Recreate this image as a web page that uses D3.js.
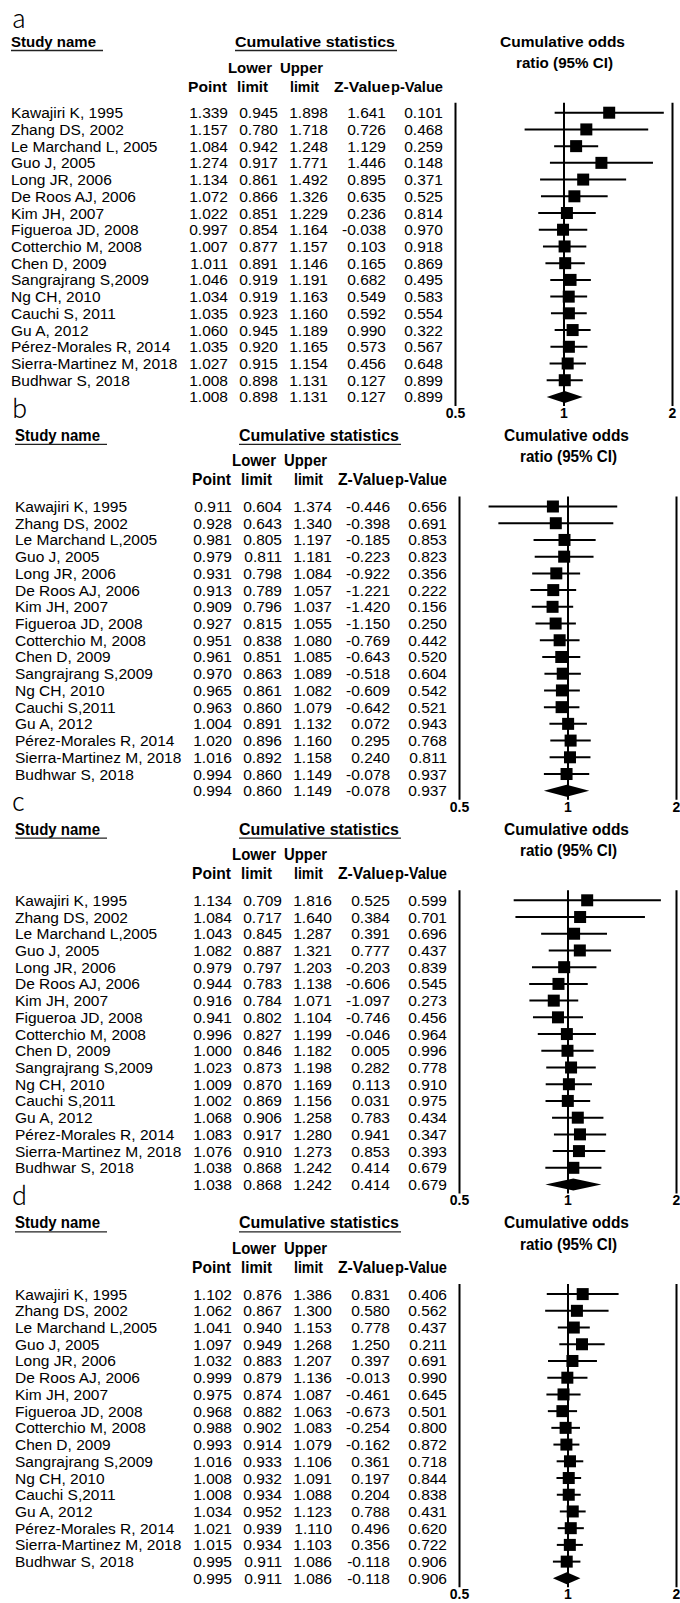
<!DOCTYPE html>
<html>
<head>
<meta charset="utf-8">
<script src="https://cdn.jsdelivr.net/npm/d3@7"></script>
<style>
  body { margin: 0; background: #fff; }
</style>
</head>
<body>
<script>
// study names, a uses "L, 2005" / "S, 2011", the other three panels drop the space
const namesA = ['Kawajiri K, 1995', 'Zhang DS, 2002', 'Le Marchand L, 2005', 'Guo J, 2005', 'Long JR, 2006',
  'De Roos AJ, 2006', 'Kim JH, 2007', 'Figueroa JD, 2008', 'Cotterchio M, 2008', 'Chen D, 2009',
  'Sangrajrang S,2009', 'Ng CH, 2010', 'Cauchi S, 2011', 'Gu A, 2012', 'Pérez-Morales R, 2014',
  'Sierra-Martinez M, 2018', 'Budhwar S, 2018'];
const namesBCD = ['Kawajiri K, 1995', 'Zhang DS, 2002', 'Le Marchand L,2005', 'Guo J, 2005', 'Long JR, 2006',
  'De Roos AJ, 2006', 'Kim JH, 2007', 'Figueroa JD, 2008', 'Cotterchio M, 2008', 'Chen D, 2009',
  'Sangrajrang S,2009', 'Ng CH, 2010', 'Cauchi S,2011', 'Gu A, 2012', 'Pérez-Morales R, 2014',
  'Sierra-Martinez M, 2018', 'Budhwar S, 2018'];

// cumulative statistics, last entry of each array = pooled row (diamond)
const pointA = [1.339, 1.157, 1.084, 1.274, 1.134, 1.072, 1.022, 0.997, 1.007, 1.011, 1.046, 1.034, 1.035, 1.060, 1.035, 1.027, 1.008, 1.008];
const lowerA = [0.945, 0.780, 0.942, 0.917, 0.861, 0.866, 0.851, 0.854, 0.877, 0.891, 0.919, 0.919, 0.923, 0.945, 0.920, 0.915, 0.898, 0.898];
const upperA = [1.898, 1.718, 1.248, 1.771, 1.492, 1.326, 1.229, 1.164, 1.157, 1.146, 1.191, 1.163, 1.160, 1.189, 1.165, 1.154, 1.131, 1.131];
const zA     = [1.641, 0.726, 1.129, 1.446, 0.895, 0.635, 0.236, -0.038, 0.103, 0.165, 0.682, 0.549, 0.592, 0.990, 0.573, 0.456, 0.127, 0.127];
const pA     = [0.101, 0.468, 0.259, 0.148, 0.371, 0.525, 0.814, 0.970, 0.918, 0.869, 0.495, 0.583, 0.554, 0.322, 0.567, 0.648, 0.899, 0.899];

const pointB = [0.911, 0.928, 0.981, 0.979, 0.931, 0.913, 0.909, 0.927, 0.951, 0.961, 0.970, 0.965, 0.963, 1.004, 1.020, 1.016, 0.994, 0.994];
const lowerB = [0.604, 0.643, 0.805, 0.811, 0.798, 0.789, 0.796, 0.815, 0.838, 0.851, 0.863, 0.861, 0.860, 0.891, 0.896, 0.892, 0.860, 0.860];
const upperB = [1.374, 1.340, 1.197, 1.181, 1.084, 1.057, 1.037, 1.055, 1.080, 1.085, 1.089, 1.082, 1.079, 1.132, 1.160, 1.158, 1.149, 1.149];
const zB     = [-0.446, -0.398, -0.185, -0.223, -0.922, -1.221, -1.420, -1.150, -0.769, -0.643, -0.518, -0.609, -0.642, 0.072, 0.295, 0.240, -0.078, -0.078];
const pB     = [0.656, 0.691, 0.853, 0.823, 0.356, 0.222, 0.156, 0.250, 0.442, 0.520, 0.604, 0.542, 0.521, 0.943, 0.768, 0.811, 0.937, 0.937];

const pointC = [1.134, 1.084, 1.043, 1.082, 0.979, 0.944, 0.916, 0.941, 0.996, 1.000, 1.023, 1.009, 1.002, 1.068, 1.083, 1.076, 1.038, 1.038];
const lowerC = [0.709, 0.717, 0.845, 0.887, 0.797, 0.783, 0.784, 0.802, 0.827, 0.846, 0.873, 0.870, 0.869, 0.906, 0.917, 0.910, 0.868, 0.868];
const upperC = [1.816, 1.640, 1.287, 1.321, 1.203, 1.138, 1.071, 1.104, 1.199, 1.182, 1.198, 1.169, 1.156, 1.258, 1.280, 1.273, 1.242, 1.242];
const zC     = [0.525, 0.384, 0.391, 0.777, -0.203, -0.606, -1.097, -0.746, -0.046, 0.005, 0.282, 0.113, 0.031, 0.783, 0.941, 0.853, 0.414, 0.414];
const pC     = [0.599, 0.701, 0.696, 0.437, 0.839, 0.545, 0.273, 0.456, 0.964, 0.996, 0.778, 0.910, 0.975, 0.434, 0.347, 0.393, 0.679, 0.679];

const pointD = [1.102, 1.062, 1.041, 1.097, 1.032, 0.999, 0.975, 0.968, 0.988, 0.993, 1.016, 1.008, 1.008, 1.034, 1.021, 1.015, 0.995, 0.995];
const lowerD = [0.876, 0.867, 0.940, 0.949, 0.883, 0.879, 0.874, 0.882, 0.902, 0.914, 0.933, 0.932, 0.934, 0.952, 0.939, 0.934, 0.911, 0.911];
const upperD = [1.386, 1.300, 1.153, 1.268, 1.207, 1.136, 1.087, 1.063, 1.083, 1.079, 1.106, 1.091, 1.088, 1.123, 1.110, 1.103, 1.086, 1.086];
const zD     = [0.831, 0.580, 0.778, 1.250, 0.397, -0.013, -0.461, -0.673, -0.254, -0.162, 0.361, 0.197, 0.204, 0.788, 0.496, 0.356, -0.118, -0.118];
const pD     = [0.406, 0.562, 0.437, 0.211, 0.691, 0.990, 0.645, 0.501, 0.800, 0.872, 0.718, 0.844, 0.838, 0.431, 0.620, 0.722, 0.906, 0.906];

const oddsTicks = [0.5, 1, 2];

// layout (pixels)
const W = 680, H = 1603;
const firstRow = 112.7, rowStep = 16.72, panelGap = 393.8;
const colRight = [228, 278, 328, 386, 443];   // right edges of the five number columns
const plotX = [455, 672];                     // x of 0.5 and 2

const svg = d3.select('body').append('svg')
  .attr('width', W)
  .attr('height', H)
  .style('font-family', '"Liberation Sans", Arial, sans-serif');

const panels = [
  { label: 'a', names: namesA,   cols: [pointA, lowerA, upperA, zA, pA], dx: 0, narrow: false },
  { label: 'b', names: namesBCD, cols: [pointB, lowerB, upperB, zB, pB], dx: 4, narrow: true },
  { label: 'c', names: namesBCD, cols: [pointC, lowerC, upperC, zC, pC], dx: 4, narrow: true },
  { label: 'd', names: namesBCD, cols: [pointD, lowerD, upperD, zD, pD], dx: 4, narrow: true },
];

panels.forEach((p, i) => drawPanel(p, firstRow + i * panelGap));

function drawPanel(p, K) {
  const g = svg.append('g').attr('transform', `translate(${p.dx},0)`);
  const n = p.names.length;  // pooled row sits at index n

  const y = d3.scaleLinear().domain([0, n]).range([K, K + n * rowStep]);
  const x = d3.scaleLog().domain([oddsTicks[0], oddsTicks[oddsTicks.length - 1]]).range(plotX);

  // panel letter
  g.append('text')
    .attr('x', 12 - p.dx)
    .attr('y', K - (p.narrow ? 89 : 84.7))
    .style('font-family', '"Noto Sans CJK SC", "Noto Sans", sans-serif')
    .style('font-weight', 300)
    .style('font-size', '25px')
    .text(p.label);

  // headers
  const headFont = p.narrow ? '"Liberation Sans Narrow", "Liberation Sans", Arial' : '"Liberation Sans", Arial';
  const headSize = p.narrow ? 16.5 : 15;
  const headers = [
    ['Study name', 11, -65.7, 85],
    ['Cumulative statistics', 235, -65.7, 160],
    ['Cumulative odds', 500, -65.7, 125],
    ['ratio (95% CI)', 516, -44.4, 97],
    ['Lower', 228, -40.2, 44],
    ['Upper', 280, -40.2, 43],
    ['Point', 188, -21.2, 39],
    ['limit', 237, -21.2, 31],
    ['limit', 290, -21.2, 29],
    ['Z-Value', 334, -21.2, 56],
    ['p-Value', 391, -21.2, 52],
  ];
  g.selectAll('.head')
    .data(headers)
    .enter()
    .append('text')
    .attr('class', 'head')
    .attr('x', d => d[1])
    .attr('y', d => K + d[2])
    .attr('textLength', d => d[3])
    .attr('lengthAdjust', 'spacingAndGlyphs')
    .style('font-family', headFont)
    .style('font-weight', 'bold')
    .style('font-size', headSize + 'px')
    .text(d => d[0]);

  // underlines under the two table headings
  g.selectAll('.uline')
    .data([[11, 103], [235, 397]])
    .enter()
    .append('line')
    .attr('x1', d => d[0])
    .attr('x2', d => d[1])
    .attr('y1', K - 62.2)
    .attr('y2', K - 62.2)
    .attr('stroke', '#222')
    .attr('stroke-width', 1.3);

  // study names
  g.selectAll('.name')
    .data(p.names)
    .enter()
    .append('text')
    .attr('x', 11)
    .attr('y', (d, i) => y(i) + 5.5)
    .style('font-size', '15.5px')
    .text(d => d);

  // number columns
  p.cols.forEach((col, c) => {
    g.selectAll('.num' + c)
      .data(col)
      .enter()
      .append('text')
      .attr('x', colRight[c])
      .attr('y', (d, i) => y(i) + 5.5)
      .attr('text-anchor', 'end')
      .style('font-size', '15.5px')
      .text(d => d.toFixed(3));
  });

  // reference lines at 0.5, 1, 2 come from the axis ticks
  const top = K - 10, bottom = y(n) + 9;
  const axis = g.append('g')
    .attr('transform', `translate(0,${bottom})`)
    .call(d3.axisBottom(x)
      .tickValues(oddsTicks)
      .tickFormat(d => String(d))
      .tickSize(-(bottom - top))
      .tickPadding(2));
  axis.select('.domain').remove();
  axis.selectAll('.tick line').attr('stroke', '#000').attr('stroke-width', 2);
  axis.selectAll('.tick text')
    .attr('fill', '#000')
    .style('font-family', headFont)
    .style('font-weight', 'bold')
    .style('font-size', '14px');

  const point = p.cols[0], lower = p.cols[1], upper = p.cols[2];
  const studies = d3.range(n);

  // CI whiskers
  g.selectAll('.ci')
    .data(studies)
    .enter()
    .append('line')
    .attr('x1', i => x(lower[i]))
    .attr('x2', i => x(upper[i]))
    .attr('y1', i => y(i))
    .attr('y2', i => y(i))
    .attr('stroke', '#000')
    .attr('stroke-width', 2);

  // point squares
  const sq = 12;
  g.selectAll('.sq')
    .data(studies)
    .enter()
    .append('rect')
    .attr('x', i => x(point[i]) - sq / 2)
    .attr('y', i => y(i) - sq / 2)
    .attr('width', sq)
    .attr('height', sq)
    .attr('fill', '#000');

  // pooled diamond
  const yd = y(n);
  g.append('path')
    .attr('d', `M${x(lower[n])},${yd}L${x(point[n])},${yd - 6}L${x(upper[n])},${yd}L${x(point[n])},${yd + 6}Z`)
    .attr('fill', '#000');
}
</script>
</body>
</html>
